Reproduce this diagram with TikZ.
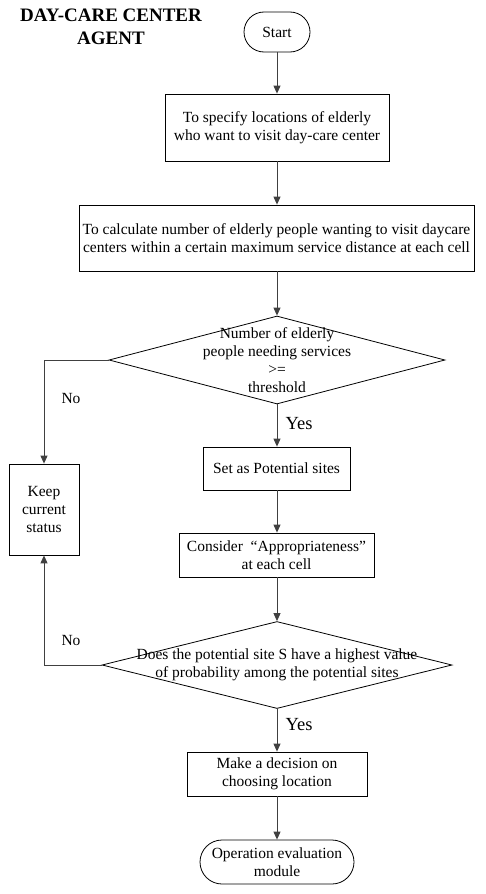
\documentclass[tikz,border=0pt]{standalone}
\usepackage{fontspec}
\setmainfont{Liberation Serif}
\usetikzlibrary{shapes.geometric,arrows.meta}
\begin{document}
\begin{tikzpicture}[x=1pt,y=-1pt,
  box/.style={draw, line width=0.8pt, inner sep=0pt, align=center, font=\fontsize{15.5}{18}\selectfont},
  term/.style={box, rounded corners=20pt},
  dia/.style={draw, diamond, inner sep=0pt, line width=0.8pt},
  dtext/.style={align=center, inner sep=0pt, font=\fontsize{15.5}{18}\selectfont},
  arr/.style={draw=black!75, line width=0.9pt, -{Triangle[length=8pt,width=7pt]}},
  lbl/.style={inner sep=0pt, font=\fontsize{15.5}{18}\selectfont},
  ylbl/.style={inner sep=0pt, font=\fontsize{18.5}{20}\selectfont}]
\useasboundingbox (0,0) rectangle (486,894);
\node[align=center, inner sep=0pt, font=\fontsize{19}{23}\selectfont\bfseries] (title) at (111,27) {DAY-CARE CENTER\\AGENT};
\node[term, minimum width=66pt, minimum height=40pt] (start) at (277,32) {Start};
\node[box, minimum width=224pt, minimum height=67pt] (b1) at (277,127.5) {To specify locations of elderly\\who want to visit day-care center};
\node[box, minimum width=395pt, minimum height=66pt] (b2) at (276.5,238) {To calculate number of elderly people wanting to visit daycare\\centers within a certain maximum service distance at each cell};
\node[dia, minimum width=336pt, minimum height=88pt] (d1) at (277,360) {};
\node[dtext] (d1t) at (277,360) {Number of elderly\\people needing services\\>=\\threshold};
\node[box, minimum width=70pt, minimum height=91pt] (keep) at (44,509.5) {Keep\\current\\status};
\node[box, minimum width=147pt, minimum height=43pt] (b3) at (276.5,468.5) {Set as Potential sites};
\node[box, minimum width=195pt, minimum height=44pt] (b4) at (276.5,555) {Consider \ ``Appropriateness''\\at each cell};
\node[dia, minimum width=350pt, minimum height=87pt] (d2) at (277,665) {};
\node[dtext] (d2t) at (277,665) {Does the potential site S have a highest value\\of probability among the potential sites};
\node[box, minimum width=180pt, minimum height=44pt] (b5) at (277,774) {Make a decision on\\choosing location};
\node[term, rounded corners=22pt, minimum width=154pt, minimum height=44pt] (fin) at (277,862) {Operation evaluation\\module};
\node[lbl] (no1) at (71,398) {No};
\node[ylbl] (yes1) at (299,424) {Yes};
\node[lbl] (no2) at (71,640) {No};
\node[ylbl] (yes2) at (299,725) {Yes};
\draw[arr] (start) -- (b1);
\draw[arr] (b1.south -| start.south) -- (b2.north -| start.south);
\draw[arr] (b2.south -| d1.north) -- (d1.north);
\draw[arr] (d1.south) -- (b3.north -| d1.south);
\draw[arr] (b3.south -| d1.south) -- (b4.north -| d1.south);
\draw[arr] (b4.south -| d2.north) -- (d2.north);
\draw[arr] (d2.south) -- (b5);
\draw[arr] (b5) -- (fin);
\draw[arr] (d1.west) -| (keep.north);
\draw[arr] (d2.west) -| (keep.south);
\end{tikzpicture}
\end{document}
